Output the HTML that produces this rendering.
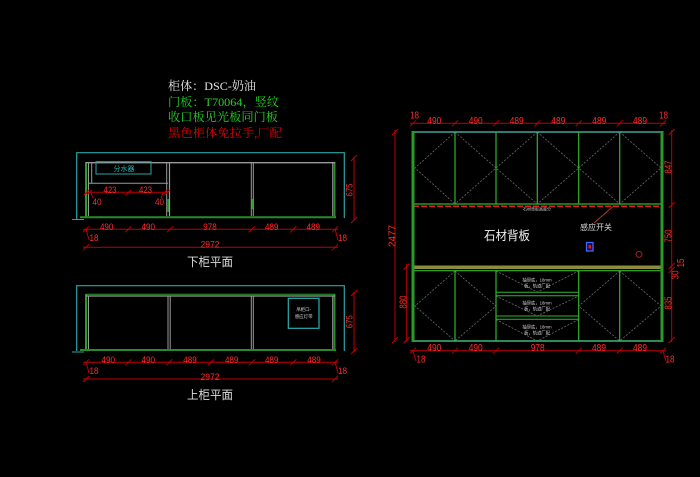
<!DOCTYPE html>
<html><head><meta charset="utf-8"><style>
html,body{margin:0;padding:0;background:#000;}
svg{display:block;}
.d{font-family:"Liberation Sans",sans-serif;fill:#ff2a2a;}
.c{font-family:"Liberation Serif","Noto Serif CJK SC",serif;}
.s{font-family:"Liberation Sans","Noto Sans CJK SC",sans-serif;}
</style></head><body>
<svg width="700" height="477" viewBox="0 0 700 477" xmlns="http://www.w3.org/2000/svg">
<rect width="700" height="477" fill="#000"/>

<!-- Title block -->
<text class="c" x="168" y="90" font-size="12" fill="#e6e6e6" textLength="88" lengthAdjust="spacingAndGlyphs">柜体：DSC-奶油</text>
<text class="c" x="168" y="106" font-size="12" fill="#22d422" textLength="111" lengthAdjust="spacingAndGlyphs">门板：T70064，竖纹</text>
<text class="c" x="168" y="121" font-size="12" fill="#22d422" textLength="110" lengthAdjust="spacingAndGlyphs">收口板见光板同门板</text>
<text class="c" x="168" y="137" font-size="12" fill="#e00000" textLength="114" lengthAdjust="spacingAndGlyphs">黑色柜体免拉手,厂配</text>

<!-- ========== LOWER PLAN ========== -->
<g fill="none">
  <polyline points="76.7,219 76.7,152.7 344.3,152.7 344.3,218" stroke="#2aa5a5" stroke-width="1.2"/>
  <line x1="72" y1="219.5" x2="84" y2="219.5" stroke="#2aa5a5" stroke-width="1"/>
  <!-- green posts / bottom -->
  <line x1="86" y1="162" x2="86" y2="218" stroke="#2a9e2a" stroke-width="2"/>
  <line x1="334.5" y1="162" x2="334.5" y2="218" stroke="#2a8a2a" stroke-width="2"/>
  <line x1="80" y1="217.3" x2="336" y2="217.3" stroke="#2a8a2a" stroke-width="2"/>
  <!-- gray frame -->
  <line x1="86" y1="162.7" x2="335" y2="162.7" stroke="#9a9a9a" stroke-width="1.3"/>
  <line x1="88.5" y1="162.7" x2="88.5" y2="216" stroke="#9a9a9a" stroke-width="1"/>
  <line x1="91.7" y1="162.7" x2="91.7" y2="183.3" stroke="#9a9a9a" stroke-width="1"/>
  <line x1="88.5" y1="183.3" x2="168" y2="183.3" stroke="#9a9a9a" stroke-width="1"/>
  <line x1="166.7" y1="162.7" x2="166.7" y2="216" stroke="#9a9a9a" stroke-width="1"/>
  <line x1="169.5" y1="162.7" x2="169.5" y2="216" stroke="#9a9a9a" stroke-width="1.2"/>
  <line x1="168.2" y1="199" x2="168.2" y2="212" stroke="#2a9e2a" stroke-width="1.5"/>
  <line x1="251.3" y1="162.7" x2="251.3" y2="216" stroke="#9a9a9a" stroke-width="1"/>
  <line x1="253.3" y1="162.7" x2="253.3" y2="216" stroke="#9a9a9a" stroke-width="1"/>
  <line x1="252.3" y1="199" x2="252.3" y2="209" stroke="#2a9e2a" stroke-width="1.5"/>
  <line x1="332.7" y1="162.7" x2="332.7" y2="216" stroke="#9a9a9a" stroke-width="1"/>
  <!-- 分水器 box -->
  <rect x="96" y="161.7" width="55" height="12.3" stroke="#2aa5a5" stroke-width="1"/>
</g>
<text class="s" x="124" y="170.8" font-size="7" fill="#2ab0b0" text-anchor="middle">分水器</text>
<!-- inner dims -->
<g stroke="#c00000" stroke-width="1" fill="none">
  <line x1="86" y1="192.3" x2="167" y2="192.3"/>
  <line x1="84" y1="195" x2="89" y2="190"/><line x1="87" y1="195" x2="92" y2="190"/>
  <line x1="125.8" y1="195" x2="130.8" y2="190"/>
  <line x1="162" y1="195" x2="167" y2="190"/><line x1="165" y1="195" x2="170" y2="190"/>
  <line x1="91" y1="193" x2="93" y2="198"/><line x1="163" y1="193" x2="161" y2="198"/>
</g>
<text class="d" x="110" y="193" font-size="9" text-anchor="middle" textLength="13" lengthAdjust="spacingAndGlyphs">423</text>
<text class="d" x="145.5" y="193" font-size="9" text-anchor="middle" textLength="13" lengthAdjust="spacingAndGlyphs">423</text>
<text class="d" x="97" y="205" font-size="9" text-anchor="middle" textLength="9" lengthAdjust="spacingAndGlyphs">40</text>
<text class="d" x="159.5" y="205" font-size="9" text-anchor="middle" textLength="9" lengthAdjust="spacingAndGlyphs">40</text>
<!-- bottom dims -->
<g stroke="#c00000" stroke-width="1" fill="none">
  <line x1="83" y1="229.3" x2="338" y2="229.3"/>
  <line x1="83" y1="232.3" x2="89" y2="226.3"/><line x1="125.3" y1="232.3" x2="131.3" y2="226.3"/>
  <line x1="167" y1="232.3" x2="173" y2="226.3"/><line x1="248.7" y1="232.3" x2="254.7" y2="226.3"/>
  <line x1="290.3" y1="232.3" x2="296.3" y2="226.3"/><line x1="332" y1="232.3" x2="338" y2="226.3"/>
  <line x1="86" y1="229" x2="89" y2="240"/><line x1="335" y1="229" x2="338" y2="240"/>
  <line x1="83" y1="247.3" x2="338" y2="247.3"/>
  <line x1="83" y1="250.3" x2="89" y2="244.3"/><line x1="332" y1="250.3" x2="338" y2="244.3"/>
  <line x1="354" y1="157" x2="354" y2="220"/>
  <line x1="351" y1="161" x2="357" y2="155"/><line x1="351" y1="223" x2="357" y2="217"/>
</g>
<g font-size="9.5">
<text class="d" x="106.7" y="230" text-anchor="middle" textLength="13.5" lengthAdjust="spacingAndGlyphs">490</text>
<text class="d" x="148.3" y="230" text-anchor="middle" textLength="13.5" lengthAdjust="spacingAndGlyphs">490</text>
<text class="d" x="210" y="230" text-anchor="middle" textLength="13.5" lengthAdjust="spacingAndGlyphs">978</text>
<text class="d" x="271.7" y="230" text-anchor="middle" textLength="13.5" lengthAdjust="spacingAndGlyphs">489</text>
<text class="d" x="313.3" y="230" text-anchor="middle" textLength="13.5" lengthAdjust="spacingAndGlyphs">489</text>
<text class="d" x="94" y="241" text-anchor="middle" textLength="9" lengthAdjust="spacingAndGlyphs">18</text>
<text class="d" x="342.5" y="241" text-anchor="middle" textLength="9" lengthAdjust="spacingAndGlyphs">18</text>
<text class="d" x="210" y="247.5" text-anchor="middle" textLength="19" lengthAdjust="spacingAndGlyphs">2972</text>
<text class="d" transform="translate(352.5,190) rotate(-90)" x="0" y="0" text-anchor="middle" textLength="13" lengthAdjust="spacingAndGlyphs">675</text>
</g>
<text class="s" x="210" y="266" font-size="12" fill="#dcdcdc" text-anchor="middle" textLength="46" lengthAdjust="spacingAndGlyphs">下柜平面</text>

<!-- ========== UPPER PLAN ========== -->
<g fill="none">
  <polyline points="76.7,351 76.7,285.7 344.3,285.7 344.3,351" stroke="#2aa5a5" stroke-width="1.2"/>
  <line x1="72" y1="352" x2="84" y2="352" stroke="#2aa5a5" stroke-width="1"/>
  <line x1="86" y1="294" x2="86" y2="351" stroke="#2a9e2a" stroke-width="2"/>
  <line x1="334.5" y1="294" x2="334.5" y2="351" stroke="#2a8a2a" stroke-width="2"/>
  <line x1="80" y1="350" x2="336" y2="350" stroke="#2a8a2a" stroke-width="2"/>
  <line x1="86" y1="294.2" x2="335" y2="294.2" stroke="#2a9e2a" stroke-width="1"/>
  <line x1="86" y1="296" x2="335" y2="296" stroke="#9a9a9a" stroke-width="1.2"/>
  <line x1="88.5" y1="296" x2="88.5" y2="349" stroke="#9a9a9a" stroke-width="1"/>
  <line x1="168" y1="296" x2="168" y2="349" stroke="#9a9a9a" stroke-width="1"/>
  <line x1="170.2" y1="296" x2="170.2" y2="349" stroke="#9a9a9a" stroke-width="1"/>
  <line x1="251.3" y1="296" x2="251.3" y2="349" stroke="#9a9a9a" stroke-width="1"/>
  <line x1="253.3" y1="296" x2="253.3" y2="349" stroke="#9a9a9a" stroke-width="1"/>
  <line x1="332.7" y1="296" x2="332.7" y2="349" stroke="#9a9a9a" stroke-width="1"/>
  <rect x="288.3" y="298.3" width="30.7" height="30" stroke="#2ab0b0" stroke-width="1.2"/>
</g>
<text class="s" x="303.7" y="311" font-size="4.5" fill="#d0d0d0" text-anchor="middle">吊柜口-</text>
<text class="s" x="303.7" y="318" font-size="4.5" fill="#d0d0d0" text-anchor="middle">感应灯带</text>
<g stroke="#c00000" stroke-width="1" fill="none">
  <line x1="83" y1="362.3" x2="338" y2="362.3"/>
  <line x1="83" y1="365.3" x2="89" y2="359.3"/><line x1="125.3" y1="365.3" x2="131.3" y2="359.3"/>
  <line x1="166.3" y1="365.3" x2="172.3" y2="359.3"/><line x1="207.7" y1="365.3" x2="213.7" y2="359.3"/>
  <line x1="249" y1="365.3" x2="255" y2="359.3"/><line x1="290.3" y1="365.3" x2="296.3" y2="359.3"/>
  <line x1="332" y1="365.3" x2="338" y2="359.3"/>
  <line x1="86" y1="362" x2="89" y2="373"/><line x1="335" y1="362" x2="338" y2="373"/>
  <line x1="83" y1="379" x2="338" y2="379"/>
  <line x1="83" y1="382" x2="89" y2="376"/><line x1="332" y1="382" x2="338" y2="376"/>
  <line x1="354" y1="292" x2="354" y2="352"/>
  <line x1="351" y1="296" x2="357" y2="290"/><line x1="351" y1="354" x2="357" y2="348"/>
</g>
<g font-size="9.5">
<text class="d" x="108.3" y="363" text-anchor="middle" textLength="13.5" lengthAdjust="spacingAndGlyphs">490</text>
<text class="d" x="148.3" y="363" text-anchor="middle" textLength="13.5" lengthAdjust="spacingAndGlyphs">490</text>
<text class="d" x="190" y="363" text-anchor="middle" textLength="13.5" lengthAdjust="spacingAndGlyphs">489</text>
<text class="d" x="231.7" y="363" text-anchor="middle" textLength="13.5" lengthAdjust="spacingAndGlyphs">489</text>
<text class="d" x="271.7" y="363" text-anchor="middle" textLength="13.5" lengthAdjust="spacingAndGlyphs">489</text>
<text class="d" x="314" y="363" text-anchor="middle" textLength="13.5" lengthAdjust="spacingAndGlyphs">489</text>
<text class="d" x="94" y="374" text-anchor="middle" textLength="9" lengthAdjust="spacingAndGlyphs">18</text>
<text class="d" x="342.5" y="374" text-anchor="middle" textLength="9" lengthAdjust="spacingAndGlyphs">18</text>
<text class="d" x="210" y="380" text-anchor="middle" textLength="19" lengthAdjust="spacingAndGlyphs">2972</text>
<text class="d" transform="translate(352.5,321.7) rotate(-90)" x="0" y="0" text-anchor="middle" textLength="13" lengthAdjust="spacingAndGlyphs">675</text>
</g>
<text class="s" x="210" y="399" font-size="12" fill="#dcdcdc" text-anchor="middle" textLength="46" lengthAdjust="spacingAndGlyphs">上柜平面</text>

<!-- ========== ELEVATION ========== -->
<!-- door swing dashed lines -->
<g stroke="#6a6a6a" stroke-width="0.8" stroke-dasharray="2 1.5" fill="none">
  <polyline points="455,132 415,168 455,204"/>
  <polyline points="455,132 496,168 455,204"/>
  <polyline points="537.3,132 496,168 537.3,204"/>
  <polyline points="537.3,132 578.7,168 537.3,204"/>
  <polyline points="619.7,132 578.7,168 619.7,204"/>
  <polyline points="619.7,132 661,168 619.7,204"/>
  <polyline points="455,271 415,306 455,341"/>
  <polyline points="455,271 496,306 455,341"/>
  <polyline points="619.7,271 578.7,306 619.7,341"/>
  <polyline points="619.7,271 661,306 619.7,341"/>
  <polyline points="496,271 537.3,292 578.7,271"/>
  <polyline points="496,296 537.3,316 578.7,296"/>
  <polyline points="496,319.5 537.3,341 578.7,319.5"/>
</g>
<g fill="none">
  <line x1="413" y1="132" x2="663" y2="132" stroke="#3aa89a" stroke-width="1.5"/>
  <line x1="413" y1="204" x2="663" y2="204" stroke="#2fb52f" stroke-width="1.2"/>
  <line x1="455" y1="132" x2="455" y2="204" stroke="#2fb52f" stroke-width="1.2"/>
  <line x1="496" y1="132" x2="496" y2="204" stroke="#2fb52f" stroke-width="1.2"/>
  <line x1="537.3" y1="132" x2="537.3" y2="204" stroke="#2fb52f" stroke-width="1.2"/>
  <line x1="578.7" y1="132" x2="578.7" y2="204" stroke="#2fb52f" stroke-width="1.2"/>
  <line x1="619.7" y1="132" x2="619.7" y2="204" stroke="#2fb52f" stroke-width="1.2"/>
  <line x1="413" y1="206.3" x2="663" y2="206.3" stroke="#e02020" stroke-width="1.6" stroke-dasharray="6 2"/>
  <rect x="413" y="265.5" width="250" height="3.5" fill="#8c8c3c" stroke="none"/>
  <line x1="413" y1="270.7" x2="663" y2="270.7" stroke="#2fb52f" stroke-width="1.2"/>
  <line x1="455" y1="271" x2="455" y2="341" stroke="#2fb52f" stroke-width="1.2"/>
  <line x1="496" y1="271" x2="496" y2="341" stroke="#2fb52f" stroke-width="1.2"/>
  <line x1="578.7" y1="271" x2="578.7" y2="341" stroke="#2fb52f" stroke-width="1.2"/>
  <line x1="619.7" y1="271" x2="619.7" y2="341" stroke="#2fb52f" stroke-width="1.2"/>
  <line x1="496" y1="292.3" x2="578.7" y2="292.3" stroke="#2fb52f" stroke-width="1"/>
  <line x1="496" y1="295.7" x2="578.7" y2="295.7" stroke="#2fb52f" stroke-width="1"/>
  <line x1="496" y1="316" x2="578.7" y2="316" stroke="#2fb52f" stroke-width="1"/>
  <line x1="496" y1="319.3" x2="578.7" y2="319.3" stroke="#2fb52f" stroke-width="1"/>
  <line x1="413" y1="341" x2="663" y2="341" stroke="#3cb878" stroke-width="1.6"/>
  <rect x="411.5" y="131" width="3" height="211" fill="#2a9a2a" stroke="none"/>
  <rect x="660.5" y="131" width="3" height="211" fill="#2a9a2a" stroke="none"/>
  <!-- sensor -->
  <line x1="594" y1="223" x2="613" y2="206.5" stroke="#c03030" stroke-width="0.9"/>
  <rect x="586.5" y="242.5" width="6.5" height="8.5" stroke="#3a6aff" stroke-width="1.3" fill="#300030"/>
  <rect x="588.5" y="245" width="2.5" height="3.5" fill="#d02020" stroke="none"/>
  <circle cx="639" cy="254.3" r="3" stroke="#c02020" stroke-width="0.9"/>
</g>
<text class="s" x="537" y="210.5" font-size="4" fill="#c8c8c8" text-anchor="middle">石材背板高度分</text>
<text class="s" x="507" y="240" font-size="12.5" fill="#f0f0f0" text-anchor="middle" textLength="46" lengthAdjust="spacingAndGlyphs">石材背板</text>
<text class="s" x="596" y="230" font-size="8" fill="#d8d8d8" text-anchor="middle" textLength="32" lengthAdjust="spacingAndGlyphs">感应开关</text>
<g class="s" font-size="4.3" fill="#d0d0d0" text-anchor="middle">
  <text x="537" y="281.5">抽屉底，18mm</text><text x="537" y="287.5">板，轨道厂配</text>
  <text x="537" y="304.5">抽屉底，18mm</text><text x="537" y="310.5">板，轨道厂配</text>
  <text x="537" y="328.5">抽屉底，18mm</text><text x="537" y="334.5">板，轨道厂配</text>
</g>
<!-- elevation dims -->
<g stroke="#c00000" stroke-width="1" fill="none">
  <line x1="410" y1="123.3" x2="666" y2="123.3"/>
  <line x1="410" y1="126.3" x2="416" y2="120.3"/><line x1="452" y1="126.3" x2="458" y2="120.3"/>
  <line x1="493" y1="126.3" x2="499" y2="120.3"/><line x1="534.3" y1="126.3" x2="540.3" y2="120.3"/>
  <line x1="575.7" y1="126.3" x2="581.7" y2="120.3"/><line x1="616.7" y1="126.3" x2="622.7" y2="120.3"/>
  <line x1="660" y1="126.3" x2="666" y2="120.3"/>
  <line x1="410" y1="350.7" x2="666" y2="350.7"/>
  <line x1="410" y1="353.7" x2="416" y2="347.7"/><line x1="452" y1="353.7" x2="458" y2="347.7"/>
  <line x1="493" y1="353.7" x2="499" y2="347.7"/><line x1="575.7" y1="353.7" x2="581.7" y2="347.7"/>
  <line x1="616.7" y1="353.7" x2="622.7" y2="347.7"/><line x1="660" y1="353.7" x2="666" y2="347.7"/>
  <line x1="413" y1="351" x2="416" y2="361"/><line x1="663" y1="351" x2="666" y2="361"/>
  <line x1="395" y1="130" x2="395" y2="342"/>
  <line x1="392" y1="135" x2="398" y2="129"/><line x1="392" y1="343" x2="398" y2="337"/>
  <line x1="406.7" y1="264" x2="406.7" y2="342"/>
  <line x1="403.7" y1="269.5" x2="409.7" y2="263.5"/><line x1="403.7" y1="343" x2="409.7" y2="337"/>
  <line x1="671.7" y1="130" x2="671.7" y2="342"/>
  <line x1="668.7" y1="135" x2="674.7" y2="129"/><line x1="668.7" y1="208" x2="674.7" y2="202"/>
  <line x1="668.7" y1="269" x2="674.7" y2="263"/><line x1="668.7" y1="273" x2="674.7" y2="267"/>
  <line x1="668.7" y1="343" x2="674.7" y2="337"/>
</g>
<g font-size="10">
<text class="d" x="434.3" y="124" text-anchor="middle" textLength="14" lengthAdjust="spacingAndGlyphs">490</text>
<text class="d" x="475.7" y="124" text-anchor="middle" textLength="14" lengthAdjust="spacingAndGlyphs">490</text>
<text class="d" x="516.7" y="124" text-anchor="middle" textLength="14" lengthAdjust="spacingAndGlyphs">489</text>
<text class="d" x="558.3" y="124" text-anchor="middle" textLength="14" lengthAdjust="spacingAndGlyphs">489</text>
<text class="d" x="599.3" y="124" text-anchor="middle" textLength="14" lengthAdjust="spacingAndGlyphs">489</text>
<text class="d" x="640" y="124" text-anchor="middle" textLength="14" lengthAdjust="spacingAndGlyphs">489</text>
<text class="d" x="414.5" y="118.5" text-anchor="middle" textLength="9" lengthAdjust="spacingAndGlyphs">18</text>
<text class="d" x="663.5" y="118.5" text-anchor="middle" textLength="9" lengthAdjust="spacingAndGlyphs">18</text>
<text class="d" x="434.3" y="351" text-anchor="middle" textLength="14" lengthAdjust="spacingAndGlyphs">490</text>
<text class="d" x="475.7" y="351" text-anchor="middle" textLength="14" lengthAdjust="spacingAndGlyphs">490</text>
<text class="d" x="537.7" y="351" text-anchor="middle" textLength="14" lengthAdjust="spacingAndGlyphs">978</text>
<text class="d" x="599" y="351" text-anchor="middle" textLength="14" lengthAdjust="spacingAndGlyphs">489</text>
<text class="d" x="640" y="351" text-anchor="middle" textLength="14" lengthAdjust="spacingAndGlyphs">489</text>
<text class="d" x="421" y="362.5" text-anchor="middle" textLength="9" lengthAdjust="spacingAndGlyphs">18</text>
<text class="d" x="670" y="362.5" text-anchor="middle" textLength="9" lengthAdjust="spacingAndGlyphs">18</text>
<text class="d" transform="translate(395.5,236) rotate(-90)" x="0" y="0" text-anchor="middle" textLength="22" lengthAdjust="spacingAndGlyphs">2477</text>
<text class="d" transform="translate(406.5,302) rotate(-90)" x="0" y="0" text-anchor="middle" textLength="13" lengthAdjust="spacingAndGlyphs">880</text>
<text class="d" transform="translate(671.5,167) rotate(-90)" x="0" y="0" text-anchor="middle" textLength="13" lengthAdjust="spacingAndGlyphs">847</text>
<text class="d" transform="translate(671.5,236) rotate(-90)" x="0" y="0" text-anchor="middle" textLength="13" lengthAdjust="spacingAndGlyphs">750</text>
<text class="d" transform="translate(671.5,303) rotate(-90)" x="0" y="0" text-anchor="middle" textLength="13" lengthAdjust="spacingAndGlyphs">835</text>
<text class="d" transform="translate(684,263) rotate(-90)" x="0" y="0" text-anchor="middle" textLength="9" lengthAdjust="spacingAndGlyphs">15</text>
<text class="d" transform="translate(678.5,275) rotate(-90)" x="0" y="0" text-anchor="middle" textLength="9" lengthAdjust="spacingAndGlyphs">30</text>
</g>
</svg>
</body></html>
